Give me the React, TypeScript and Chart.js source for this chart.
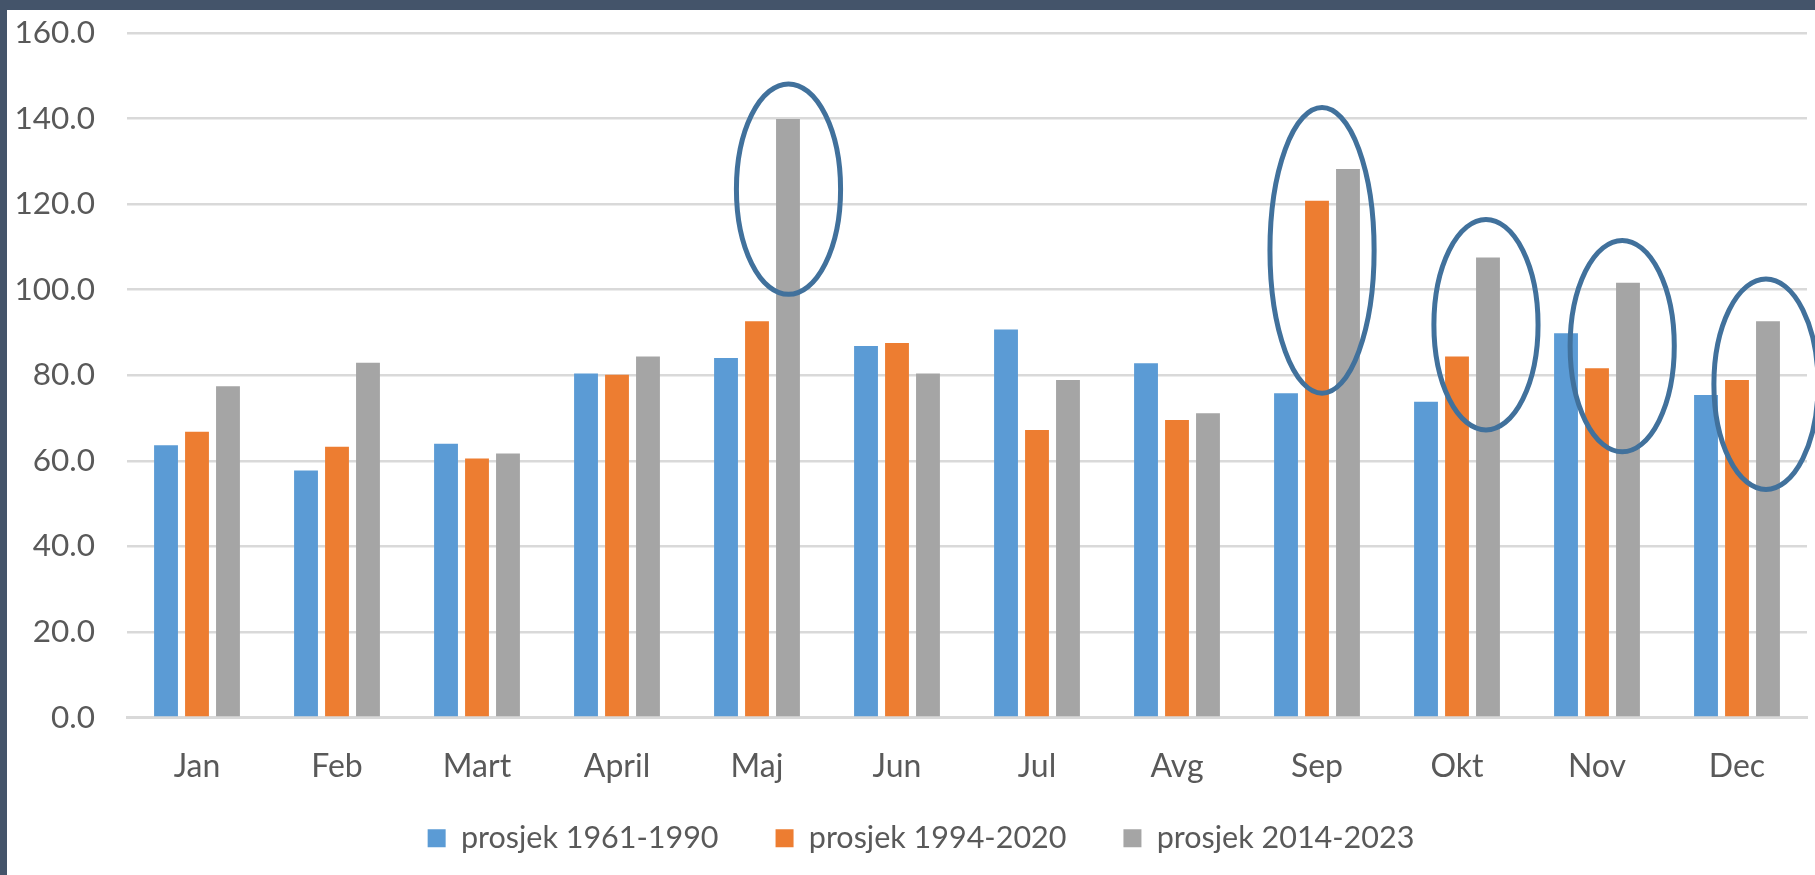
import React, { useEffect, useRef } from "react";
import { Chart, registerables } from "chart.js";

Chart.register(...registerables);

const months = ["Jan", "Feb", "Mart", "April", "Maj", "Jun", "Jul", "Avg", "Sep", "Okt", "Nov", "Dec"];
const seriesLabels = ["prosjek 1961-1990", "prosjek 1994-2020", "prosjek 2014-2023"];
const avg1961_1990 = [63.6, 57.7, 64.0, 80.4, 84.0, 86.8, 90.7, 82.8, 75.8, 73.8, 89.8, 75.4];
const avg1994_2020 = [66.8, 63.3, 60.5, 80.1, 92.6, 87.5, 67.2, 69.5, 120.8, 84.4, 81.6, 78.9];
const avg2014_2023 = [77.4, 82.9, 61.7, 84.4, 139.9, 80.4, 78.9, 71.1, 128.2, 107.5, 101.6, 92.6];
const seriesColors = ["#5B9BD5", "#ED7D31", "#A5A5A5"];
const yTicks = [0, 20, 40, 60, 80, 100, 120, 140, 160];

// highlight ellipses: month index, x offset (fraction of category), centre value, half-height in values
const ellipseMonths = [4, 8, 9, 10, 11];
const ellipseXOffset = [0.225, 0.036, 0.207, 0.18, 0.207];
const ellipseCenter = [123.5, 109.2, 91.8, 86.8, 77.9];
const ellipseHalfHeight = [24.6, 33.4, 24.6, 24.7, 24.6];
const ellipseHalfWidth = 0.372; // fraction of category width

const FONT = "Lato, 'Open Sans', sans-serif";
const TEXT = "#595959";

const ellipsePlugin = {
  id: "ellipses",
  afterDatasetsDraw(chart: any) {
    const x = chart.scales.x;
    const y = chart.scales.y;
    const catW = x.getPixelForValue(1) - x.getPixelForValue(0);
    const ctx = chart.ctx;
    ctx.save();
    ctx.strokeStyle = "#41719C";
    ctx.lineWidth = 5;
    ellipseMonths.forEach((m, i) => {
      const cx = x.getPixelForValue(m) + ellipseXOffset[i] * catW;
      const cy = y.getPixelForValue(ellipseCenter[i]);
      const ry = Math.abs(y.getPixelForValue(ellipseCenter[i] - ellipseHalfHeight[i]) - cy);
      const rx = ellipseHalfWidth * catW;
      ctx.beginPath();
      ctx.ellipse(cx, cy, rx, ry, 0, 0, Math.PI * 2);
      ctx.stroke();
    });
    ctx.restore();
  },
};

// nudge the legend box so it sits where the reference legend sits
const legendNudgePlugin = {
  id: "legendNudge",
  afterLayout(chart: any) {
    const lg = chart.legend;
    if (!lg) return;
    lg.left += 14;
    lg.right += 14;
    lg.top -= 21.6;
    lg.bottom -= 21.6;
  },
};

export default function App() {
  const ref = useRef<HTMLCanvasElement | null>(null);
  useEffect(() => {
    document.body.style.margin = "0";
    if (!ref.current) return;
    const data = [avg1961_1990, avg1994_2020, avg2014_2023];
    const chart = new Chart(ref.current, {
      type: "bar",
      data: {
        labels: months,
        datasets: data.map((d, i) => ({
          label: seriesLabels[i],
          data: d,
          backgroundColor: seriesColors[i],
          borderWidth: 0,
          categoryPercentage: 0.664,
          barPercentage: 0.77,
        })),
      },
      options: {
        responsive: false,
        animation: false,
        devicePixelRatio: 1,
        layout: { padding: { top: 23, right: 8, left: 0, bottom: 0 } },
        plugins: {
          tooltip: { enabled: false },
          legend: {
            position: "bottom",
            labels: {
              boxWidth: 18,
              boxHeight: 18,
              padding: 57,
              color: TEXT,
              font: { family: FONT, size: 30.5 },
            },
          },
        },
        scales: {
          x: {
            grid: { display: false },
            border: { display: true, color: "#D9D9D9", width: 3 },
            ticks: { color: TEXT, font: { family: FONT, size: 32 }, padding: 22.4 },
            afterFit: (s: any) => {
              s.height = 70.1;
            },
          },
          y: {
            min: 0,
            max: 160,
            afterBuildTicks: (s: any) => {
              s.ticks = yTicks.map((v) => ({ value: v }));
            },
            grid: { color: "#D9D9D9", lineWidth: 2.5, drawTicks: false },
            border: { display: false },
            ticks: {
              color: TEXT,
              font: { family: FONT, size: 31.5 },
              padding: 32,
              callback: (v: any) => Number(v).toFixed(1),
            },
            afterFit: (s: any) => {
              s.width = 120;
              s.paddingTop = 0;
              s.paddingBottom = 0;
            },
          },
        },
      },
      plugins: [ellipsePlugin, legendNudgePlugin],
    });
    return () => chart.destroy();
  }, []);

  return (
    <div style={{ position: "relative", width: 1815, height: 875, background: "#44546A", overflow: "hidden" }}>
      <div
        style={{
          position: "absolute",
          left: 7,
          top: 10,
          width: 1808,
          height: 865,
          background: "#FFFFFF",
          overflow: "hidden",
        }}
      >
        <canvas ref={ref} width={1808} height={875} style={{ display: "block" }} />
      </div>
    </div>
  );
}
